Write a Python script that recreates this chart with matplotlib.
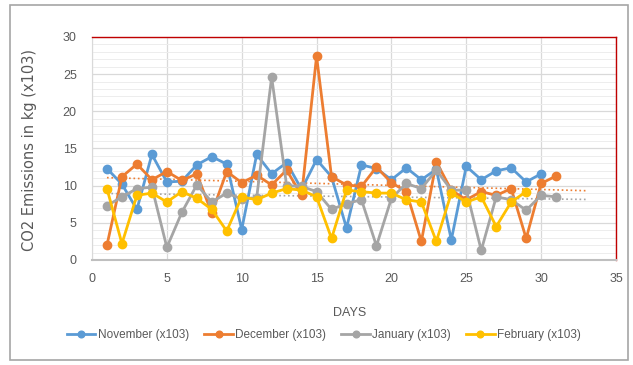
import numpy as np
import matplotlib
matplotlib.use("Agg")
import matplotlib.pyplot as plt
from matplotlib.patches import Rectangle
from matplotlib.ticker import MultipleLocator

plt.rcParams['font.family'] = ['Liberation Sans', 'DejaVu Sans']

november = [12.3, 10.2, 6.8, 14.2, 10.5, 10.6, 12.8, 13.9, 12.9, 4.1,
            14.2, 11.6, 13.1, 9.5, 13.5, 11.2, 4.3, 12.8, 12.3, 10.8,
            12.4, 10.8, 12.2, 2.7, 12.6, 10.8, 12.0, 12.4, 10.5, 11.6]
december = [2.0, 11.2, 12.9, 10.8, 11.9, 10.7, 11.6, 6.3, 11.9, 10.4,
            11.4, 10.1, 12.1, 8.7, 27.4, 11.2, 10.1, 9.9, 12.5, 10.4,
            9.2, 2.5, 13.2, 9.4, 8.1, 9.2, 8.7, 9.6, 2.9, 10.3, 11.3]
january = [7.3, 8.5, 9.6, 9.8, 1.7, 6.4, 10.1, 7.8, 9.0, 8.2,
           8.4, 24.6, 10.0, 9.9, 9.2, 6.8, 7.6, 8.1, 1.9, 8.3,
           10.3, 9.6, 12.1, 9.4, 9.4, 1.3, 8.5, 8.1, 6.7, 8.7, 8.5]
february = [9.6, 2.2, 8.7, 9.0, 7.8, 9.2, 8.3, 6.8, 3.9, 8.5,
            8.1, 9.0, 9.6, 9.4, 8.5, 2.9, 9.4, 9.2, 9.0, 9.0,
            8.1, 7.8, 2.5, 9.0, 7.8, 8.5, 4.5, 7.8, 9.2]

series = [("November (x103)", november, "#5B9BD5"),
          ("December (x103)", december, "#ED7D31"),
          ("January (x103)", january, "#A5A5A5"),
          ("February (x103)", february, "#FFC000")]

W, H = 633, 365
fig = plt.figure(figsize=(W / 100, H / 100), dpi=100)
ax = fig.add_axes([92 / W, 1 - 260 / H, (616 - 92) / W, (260 - 37) / H])

for name, vals, col in series:
    days = np.arange(1, len(vals) + 1)
    ax.plot(days, vals, '-o', color=col, lw=2, ms=6, label=name, zorder=3)

# dotted linear trendlines
for name, vals, col in series[1:3]:
    days = np.arange(1, len(vals) + 1)
    k, b = np.polyfit(days, vals, 1)
    xs = np.array([1, 33])
    ax.plot(xs, k * xs + b, ':', color=col, lw=1.2, zorder=2)

ax.set_xlim(0, 35)
ax.set_ylim(0, 30)
ax.xaxis.set_major_locator(MultipleLocator(5))
ax.yaxis.set_major_locator(MultipleLocator(5))
ax.yaxis.set_minor_locator(MultipleLocator(1))
ax.grid(which='major', color='#D9D9D9', lw=0.9)
ax.grid(which='minor', axis='y', color='#EDEDED', lw=0.7)
ax.set_axisbelow(True)
ax.tick_params(which='both', length=0, labelsize=9, colors='#595959')
ax.tick_params(axis='y', pad=11)
ax.tick_params(axis='x', pad=9)

for s in ['top', 'right']:
    ax.spines[s].set_color('#C00000')
    ax.spines[s].set_linewidth(1.0)
ax.spines['left'].set_color('#D9D9D9')
ax.spines['bottom'].set_color('#BFBFBF')
ax.spines['bottom'].set_linewidth(1.5)

fig.text(350 / W, 1 - 313 / H, "DAYS", ha='center', va='center', fontsize=9, color='#595959')
fig.text(30 / W, 1 - 150 / H, "CO2 Emissions in kg (x103)", rotation=90,
         ha='center', va='center', fontsize=10.5, color='#595959',
         family=['DejaVu Sans'])

fig.legend(loc='center', bbox_to_anchor=(324 / W, 1 - 335 / H), ncol=4,
           frameon=False, fontsize=8.5, handlelength=2.4, columnspacing=1.3,
           handletextpad=0.2, labelcolor='#595959', markerscale=0.8)

fig.patches.append(Rectangle((10 / W, 1 - 360 / H), 618 / W, 355 / H,
                             transform=fig.transFigure, fill=False,
                             edgecolor='#A6A6A6', lw=1.2))

fig.savefig("out.png", dpi=100)
